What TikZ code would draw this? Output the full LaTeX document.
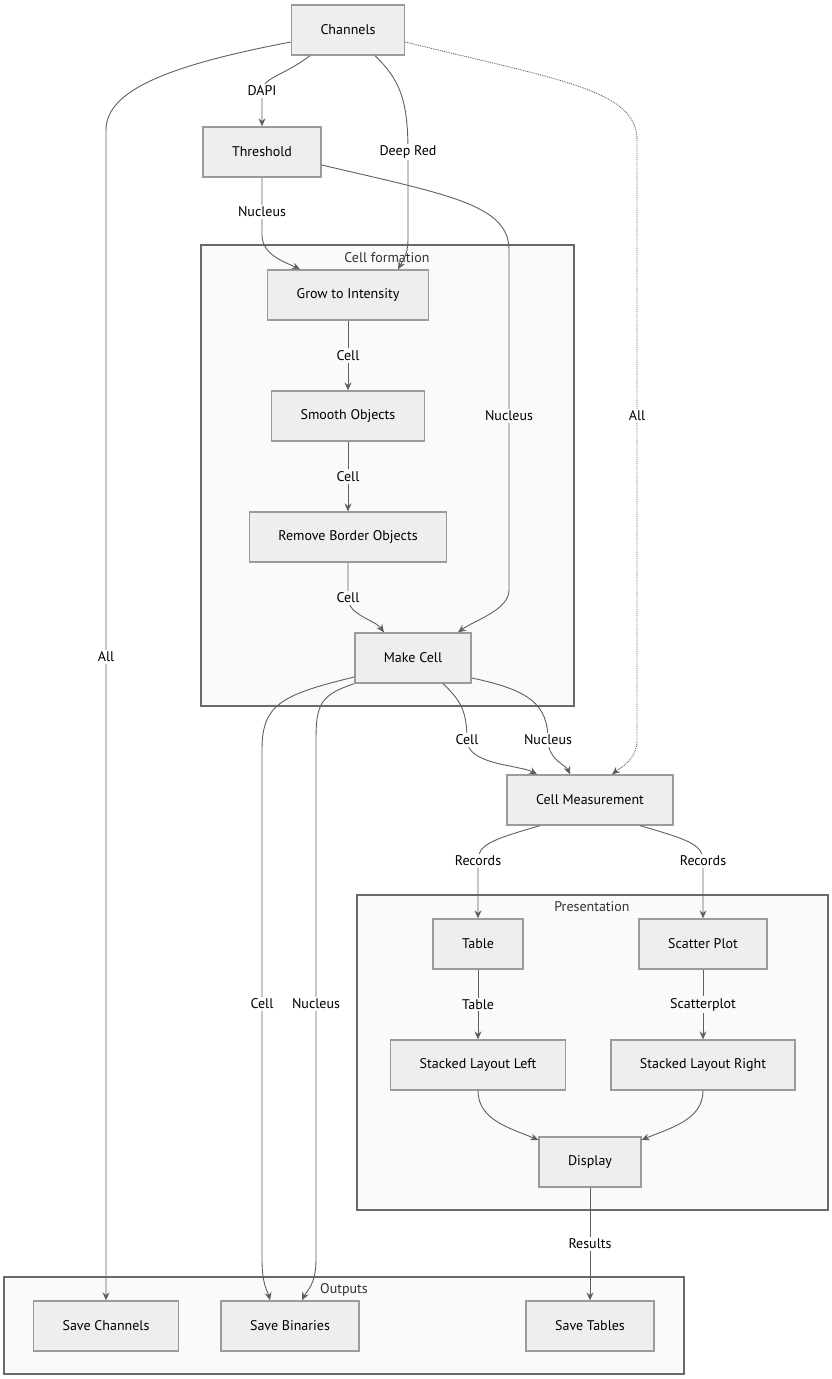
\documentclass[tikz,border=0pt]{standalone}
\usepackage{fontspec}
\setmainfont{PT Sans}
\usepackage{tikz}
\usetikzlibrary{arrows.meta,positioning}
\definecolor{boxfill}{RGB}{238,238,238}
\definecolor{boxline}{RGB}{155,155,155}
\definecolor{grpfill}{RGB}{250,250,250}
\definecolor{grpline}{RGB}{105,105,105}
\definecolor{edgegray}{RGB}{95,95,95}
\tikzset{
  box/.style={rectangle,draw=boxline,line width=1.3pt,fill=boxfill,text=black,
              align=center,inner xsep=29pt,minimum height=50pt,font=\fontsize{14}{16}\selectfont},
  grp/.style={rectangle,draw=grpline,line width=1.1pt,fill=grpfill},
  grplbl/.style={font=\fontsize{14}{16}\selectfont,text=black!80,inner sep=1pt},
  fl/.style={-{Stealth[length=8pt,width=7pt]},draw=edgegray,line width=0.9pt},
  lbl/.style={fill=white,inner sep=2pt,font=\fontsize{14}{16}\selectfont},
  lblg/.style={lbl,fill=grpfill},
}
\begin{document}
\begin{tikzpicture}[x=1pt,y=-1pt]
  \useasboundingbox (0,0) rectangle (831,1379);
  % groups
  \draw[grp] (201,245) rectangle (574,706);
  \node[grplbl] (cellformlbl) at (387,258) {Cell formation};
  \draw[grp] (357,895) rectangle (828,1210);
  \node[grplbl] (preslbl) at (592,907) {Presentation};
  \draw[grp] (4,1277) rectangle (684,1374);
  \node[grplbl] (outlbl) at (344,1290) {Outputs};
  % steps
  \node[box] (ch) at (348,30) {Channels};
  \node[box] (th) at (262,152) {Threshold};
  \node[box] (gr) at (348,295) {Grow to Intensity};
  \node[box] (sm) at (348,416) {Smooth Objects};
  \node[box] (rb) at (348,537) {Remove Border Objects};
  \node[box] (mc) at (413,658) {Make Cell};
  \node[box] (cm) at (590,800) {Cell Measurement};
  \node[box] (tb) at (478,944) {Table};
  \node[box] (sp) at (703,944) {Scatter Plot};
  \node[box] (sll) at (478,1065) {Stacked Layout Left};
  \node[box] (slr) at (703,1065) {Stacked Layout Right};
  \node[box] (dp) at (590,1162) {Display};
  \node[box] (svch) at (106,1326) {Save Channels};
  \node[box] (svb) at (290,1326) {Save Binaries};
  \node[box] (svt) at (590,1326) {Save Tables};
  % flows
  \draw[fl] ([yshift=-12pt]ch.west) .. controls (170,65) and (106,90) .. (106,130)
    -- node[lbl,pos=0.45]{All} (svch);
  \draw[fl] ([xshift=-38pt]ch.south) .. controls (285,75) and (262,78) .. (262,91)
    -- node[lbl,pos=0]{DAPI} (th);
  \draw[fl] ([xshift=27pt]ch.south) .. controls (400,80) and (408,100) .. (408,152)
    node[lbl]{Deep Red} -- (408,240) .. controls (408,255) and (402,262) .. ([xshift=50pt]gr.north);
  \draw[fl,densely dotted] ([yshift=-12pt]ch.east) .. controls (560,80) and (637,90) .. (637,140)
    -- (637,416) node[lbl]{All} -- (637,740) .. controls (637,760) and (620,768) .. ([xshift=22pt]cm.north);
  \draw[fl] (th.south) -- (262,212) node[lbl]{Nucleus} -- (262,235)
    .. controls (262,255) and (285,262) .. ([xshift=-48pt]gr.north);
  \draw[fl] ([yshift=-13pt]th.east) .. controls (450,195) and (509,205) .. (509,250)
    -- (509,416) node[lblg]{Nucleus} -- (509,590) .. controls (509,610) and (475,620) .. ([xshift=45pt]mc.north);
  \draw[fl] (gr) -- node[lblg]{Cell} (sm);
  \draw[fl] (sm) -- node[lblg]{Cell} (rb);
  \draw[fl] (rb.south) -- (348,598) node[lblg]{Cell}
    .. controls (348,615) and (375,620) .. ([xshift=-29pt]mc.north);
  \draw[fl] ([yshift=-19pt]mc.west) .. controls (280,695) and (262,705) .. (262,750)
    -- (262,1004) node[lbl]{Cell} -- (262,1260) .. controls (262,1285) and (268,1292) .. ([xshift=-20pt]svb.north);
  \draw[fl] (mc.south west) .. controls (320,695) and (316,705) .. (316,740)
    -- (316,1004) node[lbl]{Nucleus} -- (316,1260) .. controls (316,1285) and (306,1292) .. ([xshift=12pt]svb.north);
  \draw[fl] ([xshift=30pt]mc.south) .. controls (460,700) and (467,710) .. (467,740)
    node[lbl]{Cell} .. controls (467,765) and (520,765) .. ([xshift=-53pt]cm.north);
  \draw[fl] ([yshift=-20pt]mc.east) .. controls (530,690) and (548,705) .. (548,740)
    node[lbl]{Nucleus} .. controls (548,760) and (566,765) .. ([xshift=-20pt]cm.north);
  \draw[fl] ([xshift=-50pt]cm.south) .. controls (490,840) and (478,845) .. (478,861)
    -- node[lbl,pos=0]{Records} (tb);
  \draw[fl] ([xshift=50pt]cm.south) .. controls (690,840) and (703,845) .. (703,861)
    -- node[lbl,pos=0]{Records} (sp);
  \draw[fl] (tb) -- node[lblg]{Table} (sll);
  \draw[fl] (sp) -- node[lblg]{Scatterplot} (slr);
  \draw[fl] (sll.south) .. controls (478,1120) and (510,1128) .. ([yshift=22pt]dp.west);
  \draw[fl] (slr.south) .. controls (703,1120) and (670,1128) .. ([yshift=22pt]dp.east);
  \draw[fl] (dp) -- node[lbl]{Results} (svt);
\end{tikzpicture}
\end{document}
